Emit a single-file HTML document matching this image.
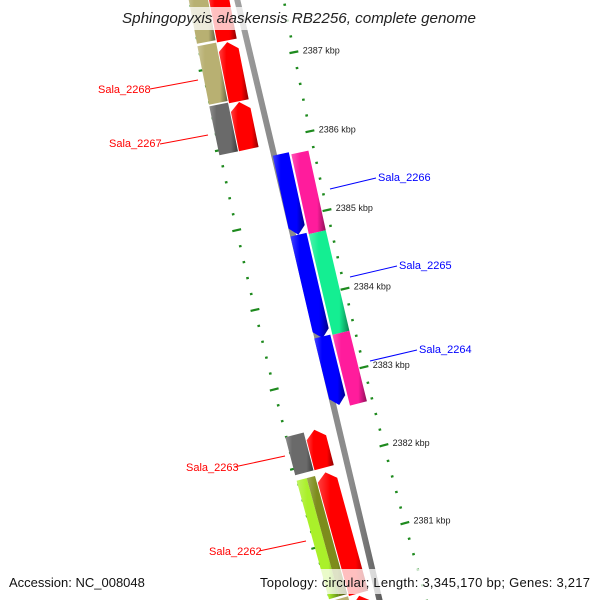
<!DOCTYPE html>
<html><head><meta charset="utf-8"><style>
html,body{margin:0;padding:0;background:#fff;width:600px;height:600px;overflow:hidden}
svg{display:block}
text{font-family:"Liberation Sans",sans-serif}
</style></head><body>
<svg id="map" width="600" height="600" viewBox="0 0 600 600" xmlns="http://www.w3.org/2000/svg">
<defs id="defs"></defs>
<g id="ticks"></g>
<g id="backbone"></g>
<g id="features"></g>
<g id="labels">
  <line x1="150" y1="89" x2="198" y2="80" stroke="#ff0000" stroke-width="1"/>
  <text x="98" y="93" font-size="11" fill="#ff0000">Sala_2268</text>
  <line x1="160" y1="144" x2="208" y2="135" stroke="#ff0000" stroke-width="1"/>
  <text x="109" y="147" font-size="11" fill="#ff0000">Sala_2267</text>
  <line x1="330" y1="189" x2="376" y2="178" stroke="#0000ff" stroke-width="1"/>
  <text x="378" y="181" font-size="11" fill="#0000ff">Sala_2266</text>
  <line x1="350" y1="277" x2="397" y2="266" stroke="#0000ff" stroke-width="1"/>
  <text x="399" y="269" font-size="11" fill="#0000ff">Sala_2265</text>
  <line x1="370" y1="361" x2="417" y2="350" stroke="#0000ff" stroke-width="1"/>
  <text x="419" y="353" font-size="11" fill="#0000ff">Sala_2264</text>
  <line x1="234" y1="467" x2="285" y2="456" stroke="#ff0000" stroke-width="1"/>
  <text x="186" y="471" font-size="11" fill="#ff0000">Sala_2263</text>
  <line x1="259" y1="551" x2="306" y2="541" stroke="#ff0000" stroke-width="1"/>
  <text x="209" y="555" font-size="11" fill="#ff0000">Sala_2262</text>
</g>
<g id="ticklabels"></g>
<rect x="112" y="7" width="372" height="23" fill="#fff" opacity="0.75"/>
<text x="122" y="23" font-size="14.5" font-style="italic" textLength="354" lengthAdjust="spacingAndGlyphs" fill="#222">Sphingopyxis alaskensis RB2256, complete genome</text>
<rect x="0" y="569" width="600" height="25" fill="#fff" opacity="0.75"/>
<text x="9" y="587" font-size="13" fill="#111">Accession: NC_008048</text>
<text x="260" y="587" font-size="13" textLength="330" lengthAdjust="spacing" fill="#111">Topology: circular; Length: 3,345,170 bp; Genes: 3,217</text>
</svg>
<script>
// ---- data (kbp) ----
const featStart = [2387.95, 2386.54, 2385.94, 2381.92, 2380.32, 2379.9,
                   2388.0, 2386.57, 2385.94, 2381.92, 2380.35, 2379.9,
                   2385.80, 2384.78, 2383.49,
                   2385.77, 2384.76, 2383.48];
const featEnd   = [2387.30, 2387.28, 2386.53, 2382.40, 2381.86, 2380.29,
                   2387.33, 2387.30, 2386.55, 2382.40, 2381.85, 2380.32,
                   2384.78, 2383.47, 2382.62,
                   2384.76, 2383.48, 2382.58];
const featTrack = ['Li','Li','Li','Li','Li','Li',
                   'Lo','Lo','Lo','Lo','Lo','Lo',
                   'Ri','Ri','Ri',
                   'Ro','Ro','Ro'];
const featArrow = ['none','up','up','up','up','up',
                   'none','none','none','none','none','none',
                   'down','down','down',
                   'none','none','none'];
const featColor = ['#ff0000','#ff0000','#ff0000','#ff0000','#ff0000','#ff0000',
                   '#b8b072','#b8b072','#6a6a6a','#6a6a6a','lime2','#b8b072',
                   '#0000ff','#0000ff','#0000ff',
                   '#ff1c9c','#14ee92','#ff1c9c'];
const majorTicks = [2387, 2386, 2385, 2384, 2383, 2382, 2381];
const tickLabels = ['2387 kbp','2386 kbp','2385 kbp','2384 kbp','2383 kbp','2382 kbp','2381 kbp'];
const minorStart = 2388.0, minorEnd = 2379.8, minorStep = 0.2;

// ---- geometry ----
const Cx = 6675.5, Cy = -1203.5, Rt = 6504, thB = 2.9101, kRad = 0.0124;
const RIGHT_TICK = 47.5, LEFT_TICK = -45;
function pt(d, p){ // d = offset right of backbone (px), p = kbp
  const r = Rt + RIGHT_TICK - d, th = thB + (p - 2384) * kRad;
  return [Cx + r * Math.cos(th), Cy + r * Math.sin(th)];
}
const NS = 'http://www.w3.org/2000/svg';
function mk(tag, attrs, parent){
  const e = document.createElementNS(NS, tag);
  for (const k in attrs) e.setAttribute(k, attrs[k]);
  parent.appendChild(e); return e;
}
const defs = document.getElementById('defs');
function shade(hex, f){
  const n = parseInt(hex.slice(1),16);
  let r=(n>>16)&255,g=(n>>8)&255,b=n&255;
  if (f>0){ r+= (255-r)*f; g+=(255-g)*f; b+=(255-b)*f; } else { r*=1+f; g*=1+f; b*=1+f; }
  return 'rgb('+Math.round(r)+','+Math.round(g)+','+Math.round(b)+')';
}
let gid = 0;
function grad(col){
  const id = 'g' + (gid++);
  const lg = mk('linearGradient', {id:id, x1:'0', y1:'0', x2:'1', y2:'0'}, defs);
  mk('stop', {offset:'0', 'stop-color':shade(col,0.25)}, lg);
  mk('stop', {offset:'0.25', 'stop-color':col}, lg);
  mk('stop', {offset:'0.75', 'stop-color':col}, lg);
  mk('stop', {offset:'1', 'stop-color':shade(col,-0.45)}, lg);
  return 'url(#' + id + ')';
}
const tracks = {Li:[-26,-6], Lo:[-46,-27], Ri:[6,22.5], Ro:[24.5,42]};
const fg = document.getElementById('features');
const TIP = 0.1;
function polyStr(arr){ return arr.map(a => a[0].toFixed(1)+','+a[1].toFixed(1)).join(' '); }
for (let i = 0; i < featStart.length; i++){
  const [d0, d1] = tracks[featTrack[i]];
  const lo = Math.min(featStart[i], featEnd[i]), hi = Math.max(featStart[i], featEnd[i]);
  const dm = (d0 + d1) / 2;
  let pts;
  if (featArrow[i] === 'up'){
    pts = [pt(d0,lo), pt(d0,hi-TIP), pt(dm,hi), pt(d1,hi-TIP), pt(d1,lo)];
  } else if (featArrow[i] === 'down'){
    pts = [pt(d0,hi), pt(d0,lo+TIP), pt(dm,lo), pt(d1,lo+TIP), pt(d1,hi)];
  } else {
    pts = [pt(d0,lo), pt(d0,hi), pt(d1,hi), pt(d1,lo)];
  }
  if (featColor[i] === 'lime2'){
    const dsplit = d0 + (d1 - d0) * 0.55;
    const a = mk('polygon', {points: polyStr([pt(d0,lo),pt(d0,hi),pt(dsplit,hi),pt(dsplit,lo)]), fill: grad('#aaf02a')}, fg);
    
    
    const b = mk('polygon', {points: polyStr([pt(dsplit,lo),pt(dsplit,hi),pt(d1,hi),pt(d1,lo)]), fill: grad('#7d8c1c')}, fg);
    
    
  } else {
    const e = mk('polygon', {points: polyStr(pts), fill: grad(featColor[i])}, fg);
    
    
  }
}
// backbone
const bb = document.getElementById('backbone');
const bbp = mk('polygon', {points: polyStr([pt(-3,2388.2), pt(-3,2379.6), pt(3,2379.6), pt(3,2388.2)]), fill: grad('#8c8c8c')}, bb);


// ticks
const tg = document.getElementById('ticks');
const nMinor = Math.round((minorStart - minorEnd) / minorStep);
for (let j = 0; j <= nMinor; j++){
  const p = minorStart - j * minorStep;
  const major = majorTicks.some(m => Math.abs(m - p) < 1e-6);
  const half = major ? 4.5 : 1.3;
  [RIGHT_TICK, LEFT_TICK].forEach(c => {
    const a = pt(c - half, p), b = pt(c + half, p);
    const l = mk('line', {x1:a[0], y1:a[1], x2:b[0], y2:b[1], stroke:'#1e8a1e', 'stroke-width': 2.2}, tg);
    
    
  });
}
const tl = document.getElementById('ticklabels');
for (let j = 0; j < majorTicks.length; j++){
  const q = pt(RIGHT_TICK + 9, majorTicks[j]);
  const t = mk('text', {x:q[0].toFixed(1), y:(q[1]+3).toFixed(1), 'font-size':'9', fill:'#222'}, tl);
  t.textContent = tickLabels[j];
  
  
}
</script>
</body></html>
